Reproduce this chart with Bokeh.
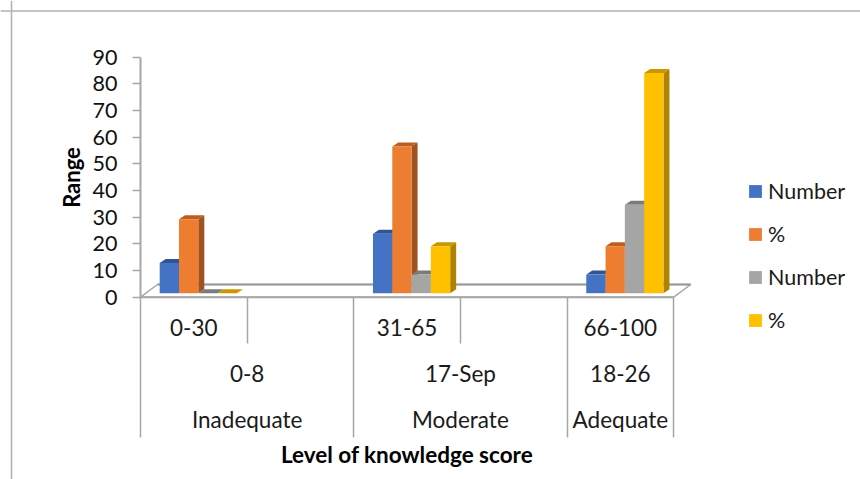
from bokeh.plotting import figure
from bokeh.models import LinearAxis, FixedTicker, Range1d, Span, Legend, LegendItem, ColumnDataSource
from bokeh.embed import file_html
from bokeh.resources import INLINE

# ---- data
y_ticks = [0, 10, 20, 30, 40, 50, 60, 70, 80, 90]
groups = [0, 2, 4]
score_labels = ["0-30", "31-65", "66-100"]
mark_labels = ["0-8", "17-Sep", "18-26"]
level_labels = ["Inadequate", "Moderate", "Adequate"]
series_names = ["Number", "%", "Number", "%"]
number_a = [11.3, 22.3, 7.0]
percent_a = [27.7, 55.0, 17.6]
number_b = [0.0, 7.0, 33.2]
percent_b = [0.0, 17.6, 82.6]
series_values = [number_a, percent_a, number_b, percent_b]

front_colors = ["#4472C4", "#ED7D31", "#A5A5A5", "#FFC000"]
top_colors = ["#2F5597", "#BE5E1E", "#7B7B7B", "#C99700"]
side_colors = ["#2F5597", "#A0531F", "#7B7B7B", "#AF8300"]
axis_color = "#A6A6A6"
font = "Lato"

# ---- geometry, pixels per unit
W, H = 860, 479
PX_X = 106.64
PX_Y = 240 / 90
X0_PAGE, Y0_PAGE = 140.0, 296.7
x_start = -X0_PAGE / PX_X
x_end = (W - X0_PAGE) / PX_X
y_end = Y0_PAGE / PX_Y
y_start = (Y0_PAGE - H) / PX_Y

p = figure(width=W, height=H, output_backend="svg", toolbar_location=None,
           x_axis_type=None, y_axis_type=None,
           x_range=Range1d(x_start, x_end), y_range=Range1d(y_start, y_end),
           min_border=0, min_border_left=0, min_border_right=0, min_border_top=0, min_border_bottom=0)
p.grid.visible = False
p.outline_line_color = None
p.background_fill_color = "white"

# chart-area border
p.add_layout(Span(location=(11 - X0_PAGE) / PX_X, dimension="height", line_color="#B0B0B0", line_width=1.5))
p.add_layout(Span(location=(Y0_PAGE - 10.5) / PX_Y, dimension="width", line_color="#B0B0B0", line_width=1.5))

# floor of the 3D box
FLOOR_DX = 17 / PX_X
FLOOR_DY = 12.7 / PX_Y
p.patch([0, 5, 5 + FLOOR_DX, FLOOR_DX], [0, 0, FLOOR_DY, FLOOR_DY],
        fill_color="white", line_color=axis_color, line_width=1.5)
p.line([FLOOR_DX, 5 + FLOOR_DX], [FLOOR_DY, FLOOR_DY], line_color="#999999", line_width=2.2)
p.line([0, 5], [0, 0], line_color=axis_color, line_width=2)

# bars
BAR_W = 19.3 / PX_X
DX = 6 / PX_X
DY = 4 / PX_Y
BASE = 4 / PX_Y
GAP = 19.2 / PX_X

legend_items = []
for s, values in enumerate(series_values):
    left = [g + GAP + s * BAR_W for g in groups]
    right = [l + BAR_W for l in left]
    top = [v + BASE for v in values]
    p.patches([[r, r + DX, r + DX, r] for r in right],
              [[BASE, BASE + DY, t + DY, t] for t in top],
              fill_color=side_colors[s], line_color=None)
    p.patches([[l, r, r + DX, l + DX] for l, r in zip(left, right)],
              [[t, t, t + DY, t + DY] for t in top],
              fill_color=top_colors[s], line_color=None)
    src = ColumnDataSource(dict(x=[(l + r) / 2 for l, r in zip(left, right)], top=top, bottom=[BASE] * 3))
    r_bar = p.vbar(x="x", top="top", bottom="bottom", width=BAR_W, source=src,
                   fill_color=front_colors[s], line_color=None)
    legend_items.append(LegendItem(label=series_names[s], renderers=[r_bar]))

# y axis
y_axis = LinearAxis(ticker=FixedTicker(ticks=y_ticks), fixed_location=0, bounds=(0, 90),
                    axis_label="Range", axis_label_text_font=font, axis_label_text_font_size="22px",
                    axis_label_text_font_style="bold", axis_label_text_color="#000000",
                    axis_label_standoff=5,
                    major_label_text_font=font, major_label_text_font_size="21.5px",
                    major_label_text_color="#111111", major_label_standoff=15,
                    axis_line_color=axis_color, axis_line_width=2,
                    major_tick_line_color=axis_color, major_tick_line_width=1.5,
                    major_tick_out=8, major_tick_in=0, minor_tick_out=0, minor_tick_in=0)
p.add_layout(y_axis, "left")


def row_axis(ticks, labels, standoff, **kw):
    ax = LinearAxis(ticker=FixedTicker(ticks=ticks), fixed_location=0, bounds=(0, 5),
                    major_label_overrides=dict(zip(ticks, labels)),
                    major_label_text_font=font, major_label_text_font_size="22.5px",
                    major_label_text_color="#1a1a1a", major_label_standoff=standoff,
                    axis_line_color=None, major_tick_line_color=None, minor_tick_line_color=None,
                    major_tick_out=0, major_tick_in=0, minor_tick_out=0, minor_tick_in=0, **kw)
    p.add_layout(ax, "below")
    return ax


row_axis([g + 0.5 for g in groups], score_labels, 22)
row_axis([1, 3, 4.5], mark_labels, 63)
row_axis([1, 3, 4.5], level_labels, 109,
         axis_label="Level of knowledge score", axis_label_text_font=font,
         axis_label_text_font_size="22.5px", axis_label_text_font_style="bold",
         axis_label_text_color="#000000", axis_label_standoff=4)

# separators of the multi-level category axis
sep_major = [0, 2, 4, 5]
sep_minor = [1, 3]
sep = LinearAxis(ticker=FixedTicker(ticks=sep_major, minor_ticks=sep_minor), fixed_location=0, bounds=(0, 5),
                 major_label_overrides={t: "" for t in sep_major}, axis_line_color=None,
                 major_tick_line_color=axis_color, major_tick_line_width=1.5,
                 minor_tick_line_color=axis_color, minor_tick_line_width=1.5,
                 major_tick_out=140, major_tick_in=0, minor_tick_out=46, minor_tick_in=0)
p.add_layout(sep, "below")

legend = Legend(items=legend_items, location=(747, 146), orientation="vertical",
                glyph_width=16, glyph_height=16, label_standoff=5, spacing=17, label_height=20,
                padding=0, margin=0, border_line_color=None, background_fill_alpha=0,
                label_text_font=font, label_text_font_size="21.5px", label_text_color="#1a1a1a")
p.add_layout(legend, "center")

open("out.html", "w").write(file_html(p, INLINE))
